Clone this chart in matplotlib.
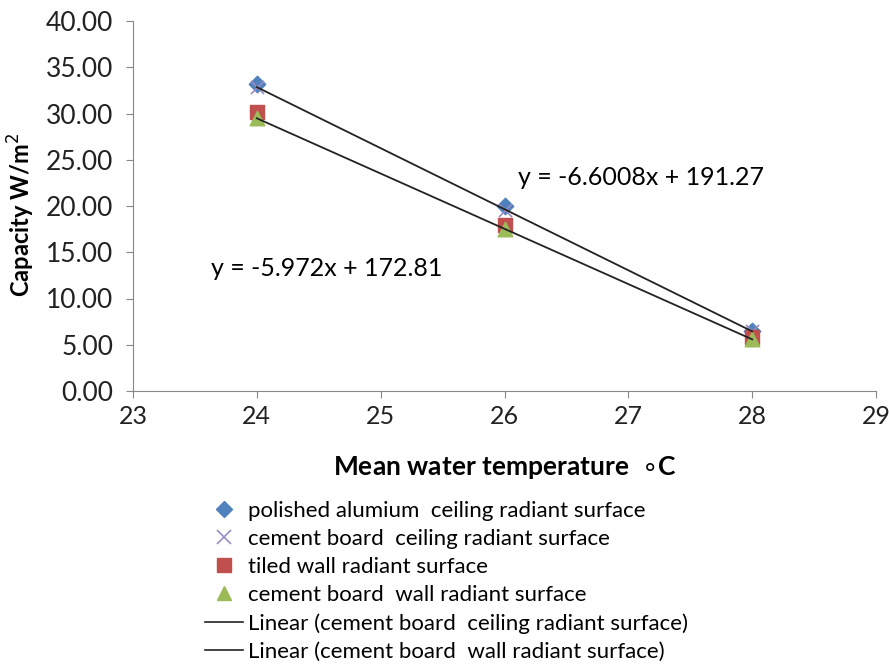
import numpy as np
import matplotlib.pyplot as plt
from matplotlib.lines import Line2D

plt.rcParams['font.family'] = ['Lato', 'DejaVu Sans']

temps = [24, 26, 28]
alu_ceiling = [33.2, 20.0, 6.5]
cement_ceiling = [32.9, 19.55, 6.5]
tiled_wall = [30.2, 17.9, 5.8]
cement_wall = [29.5, 17.5, 5.6]

fig = plt.figure(figsize=(8.89, 6.64), dpi=100)
ax = fig.add_axes([133/889, 1-391/664, (876-133)/889, (391-21)/664])

ax.scatter(temps, alu_ceiling, marker='D', s=70, color='#4f81bd', zorder=3)
ax.scatter(temps, cement_ceiling, marker='x', s=90, color='#9b8bc4', linewidths=1.2, zorder=3)
ax.scatter(temps, tiled_wall, marker='s', s=110, color='#c0504d', zorder=3)
ax.scatter(temps, cement_wall, marker='^', s=110, color='#9bbb59', zorder=3)

# linear trendlines
xs = np.array([24, 28])
k1, b1 = np.polyfit(temps, cement_ceiling, 1)
k2, b2 = np.polyfit(temps, cement_wall, 1)
ax.plot(xs, k1*xs + b1, color='#222222', lw=1.3, zorder=4)
ax.plot(xs, k2*xs + b2, color='#222222', lw=1.3, zorder=4)

ax.text(26.11, 23.1, 'y = -6.6008x + 191.27', fontsize=18, va='center')
ax.text(23.63, 13.2, 'y = -5.972x + 172.81', fontsize=18, va='center')

ax.set_xlim(23, 29)
ax.set_ylim(0, 40)
ax.set_xticks(range(23, 30))
ax.set_yticks(np.arange(0, 41, 5))
ax.set_yticklabels(['%.2f' % v for v in np.arange(0, 41, 5)])
ax.tick_params(length=5, color='#888888', labelcolor='#222222')
ax.tick_params(axis='y', pad=9, labelsize=19)
ax.tick_params(axis='x', pad=5, labelsize=18)
for s in ['top', 'right']:
    ax.spines[s].set_visible(False)
for s in ['left', 'bottom']:
    ax.spines[s].set_color('#888888')

ax.set_xlabel('Mean water temperature  $\\circ$C', fontsize=19, fontweight='bold', va='center')
ax.xaxis.set_label_coords(0.5007, -0.208)
ax.set_ylabel('Capacity W/m$^2$', fontsize=17, fontweight='bold', va='center')
ax.yaxis.set_label_coords(-0.150, 0.476)

handles = [
    Line2D([], [], ls='none', marker='D', ms=8, color='#4f81bd'),
    Line2D([], [], ls='none', marker='x', ms=10, color='#9b8bc4', mew=1.2),
    Line2D([], [], ls='none', marker='s', ms=10, color='#c0504d'),
    Line2D([], [], ls='none', marker='^', ms=10, color='#9bbb59'),
    Line2D([], [], color='#222222', lw=1.2),
    Line2D([], [], color='#222222', lw=1.2),
]
labels = [
    'polished alumium  ceiling radiant surface',
    'cement board  ceiling radiant surface',
    'tiled wall radiant surface',
    'cement board  wall radiant surface',
    'Linear (cement board  ceiling radiant surface)',
    'Linear (cement board  wall radiant surface)',
]
fig.legend(handles, labels, loc='upper left', bbox_to_anchor=(205/889, 1-501/664),
           frameon=False, fontsize=16, handlelength=1.7, handletextpad=0.25,
           labelspacing=0.36, borderaxespad=0, borderpad=0)

fig.savefig('out.png', dpi=100)
